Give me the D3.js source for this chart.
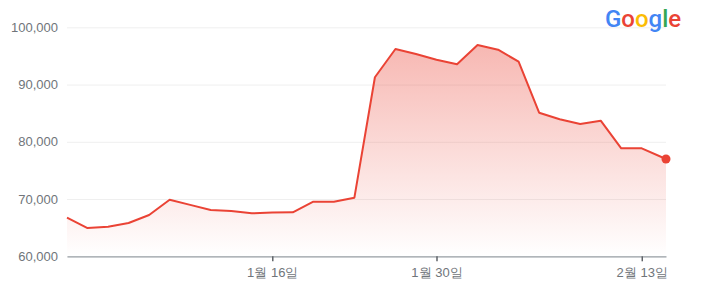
<!DOCTYPE html>
<html><head><meta charset="utf-8">
<script src="https://cdn.jsdelivr.net/npm/d3@7"></script>
<style>
html,body{margin:0;padding:0;background:#fff;}
svg{display:block;font-family:Roboto,"Noto Sans CJK KR",sans-serif;}
</style></head><body>
<svg id="c" width="701" height="294"></svg>
<script>
// Data
const xIndex = [0,1,2,3,4,5,6,7,8,9,10,11,12,13,14,15,16,17,18,19,20,21,22,23,24,25,26,27,28,29.18];
const prices = [66740,64940,65170,65820,67210,69890,68980,68090,67910,67510,67650,67690,69540,69540,70240,
  91270,96210,95340,94340,93540,96910,96090,93990,85080,83930,83110,83690,78860,78860,77000];
const xTickIndex = [10,18,28];
const xTickLabels = ["1월 16일","1월 30일","2월 13일"];
const yTicks = [60000,70000,80000,90000,100000];

(function(){
const svg = d3.select("#c");
const mLeft = 67, mRight = 666, mTop = 27.3, mBottom = 256.3;
const x = d3.scaleLinear().domain([0, d3.max(xIndex)]).range([mLeft, mRight]);
const y = d3.scaleLinear().domain([60000,100000]).range([mBottom, mTop]);
const data = xIndex.map((xi,i)=>({x:xi, v:prices[i]}));

const defs = svg.append("defs");
const grad = defs.append("linearGradient").attr("id","g")
  .attr("gradientUnits","userSpaceOnUse").attr("x1",0).attr("y1",y(97000)).attr("x2",0).attr("y2",y(60000));
grad.append("stop").attr("offset","0").attr("stop-color","#ea4335").attr("stop-opacity",0.38);
grad.append("stop").attr("offset","1").attr("stop-color","#ea4335").attr("stop-opacity",0);

// grid
const gy = svg.append("g").attr("transform",`translate(${mLeft},0)`)
  .call(d3.axisLeft(y).tickValues(yTicks).tickFormat(d3.format(",")).tickSize(-(mRight-mLeft)).tickPadding(9));
gy.select(".domain").remove();
gy.selectAll(".tick line").attr("stroke","#efefef").attr("stroke-width",1);
gy.selectAll(".tick text").attr("fill","#70757a").attr("font-size","13px");

// area & line
svg.append("path").datum(data)
  .attr("d", d3.area().x(d=>x(d.x)).y0(y(60000)).y1(d=>y(d.v)))
  .attr("fill","url(#g)");
svg.append("path").datum(data)
  .attr("d", d3.line().x(d=>x(d.x)).y(d=>y(d.v)))
  .attr("fill","none").attr("stroke","#ea4335").attr("stroke-width",2).attr("stroke-linejoin","round");

// x axis
const gx = svg.append("g").attr("transform",`translate(0,${mBottom})`)
  .call(d3.axisBottom(x).tickValues(xTickIndex).tickFormat((d,i)=>xTickLabels[i]).tickSize(5).tickPadding(6).tickSizeOuter(0));
gx.select(".domain").attr("stroke","#9aa0a6").attr("stroke-width",1.2);
gx.selectAll(".tick line").attr("stroke","#5f6368").attr("stroke-width",1.5);
gx.selectAll(".tick text").attr("fill","#70757a").attr("font-size","13px");

// end dot
const last = data[data.length-1];
svg.append("circle").attr("cx",x(last.x)).attr("cy",y(last.v)).attr("r",4.5).attr("fill","#ea4335");

// Google logo
const letters = [["G","#4285F4"],["o","#EA4335"],["o","#FBBC05"],["g","#4285F4"],["l","#34A853"],["e","#EA4335"]];
const t = svg.append("text").attr("x",605).attr("y",27).attr("font-size","24px").attr("font-weight",500)
  .attr("font-family","Roboto,sans-serif");
letters.forEach(([c,col])=>t.append("tspan").attr("fill",col).text(c));
})();
</script>
</body></html>
